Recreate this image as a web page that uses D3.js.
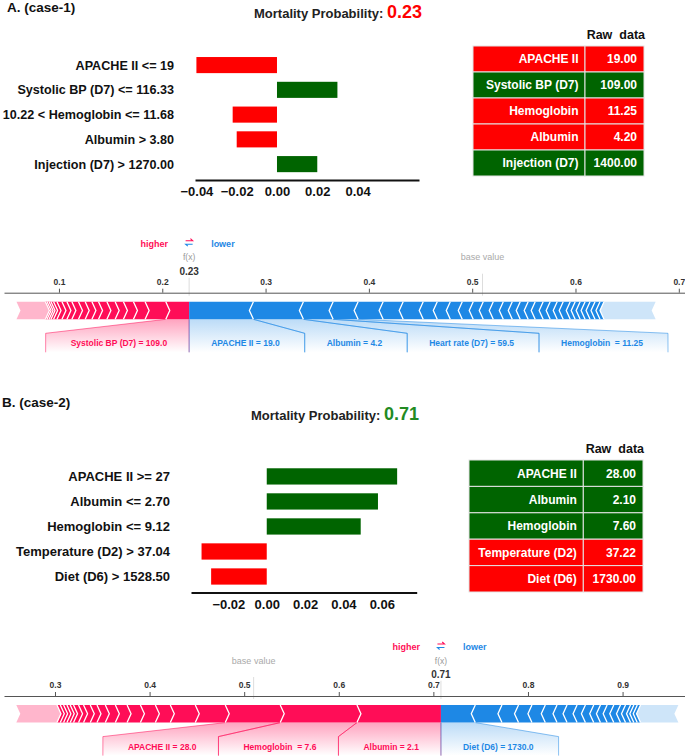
<!DOCTYPE html>
<html>
<head>
<meta charset="utf-8">
<script src="https://cdnjs.cloudflare.com/ajax/libs/d3/7.8.5/d3.min.js"></script>
<style>
  body { margin: 0; background: #fff; }
  svg { display: block; font-family: "Liberation Sans", Arial, sans-serif; }
  text { white-space: pre; }
</style>
</head>
<body>
<div id="chart"></div>
<script>
// ---- case 1 ----
var caseA_rules = ['APACHE II <= 19', 'Systolic BP (D7) <= 116.33', '10.22 < Hemoglobin <= 11.68', 'Albumin > 3.80', 'Injection (D7) > 1270.00'];
var caseA_weights = [-0.040, 0.030, -0.022, -0.020, 0.020];
var caseA_ticks = [-0.04, -0.02, 0.00, 0.02, 0.04];
var caseA_features = ['APACHE II', 'Systolic BP (D7)', 'Hemoglobin', 'Albumin', 'Injection (D7)'];
var caseA_raw = ['19.00', '109.00', '11.25', '4.20', '1400.00'];
var caseA_prob = '0.23';

var forceA_fx = 0.226;
var forceA_base = 0.510;
var forceA_ticks = [0.1, 0.2, 0.3, 0.4, 0.5, 0.6, 0.7];
// effects pushing higher (red), nearest f(x) first
var forceA_higher = [0.0226, 0.0200, 0.0113, 0.0097, 0.0080, 0.0080, 0.0081, 0.0064, 0.0065, 0.0065, 0.0064, 0.0048, 0.0048, 0.0048, 0.0033, 0.0025, 0.0019, 0.0019, 0.0016];
var forceA_higherRest = 0.028;
var forceA_higherLabels = ['Systolic BP (D7) = 109.0'];
// effects pushing lower (blue), nearest f(x) first
var forceA_lower = [0.0622, 0.0484, 0.0288, 0.0242, 0.0242, 0.0194, 0.0194, 0.0136, 0.0126, 0.0116, 0.0106, 0.0097, 0.0097, 0.0097, 0.0087, 0.0077, 0.0077, 0.0068, 0.0077, 0.0068, 0.0068, 0.0058, 0.0068, 0.0048, 0.0048, 0.0048, 0.0048, 0.0048, 0.0048, 0.0039];
var forceA_lowerRest = 0.050;
var forceA_lowerLabels = ['APACHE II = 19.0', 'Albumin = 4.2', 'Heart rate (D7) = 59.5', 'Hemoglobin  = 11.25'];

// ---- case 2 ----
var caseB_rules = ['APACHE II >= 27', 'Albumin <= 2.70', 'Hemoglobin <= 9.12', 'Temperature (D2) > 37.04', 'Diet (D6) > 1528.50'];
var caseB_weights = [0.068, 0.058, 0.049, -0.034, -0.029];
var caseB_ticks = [-0.02, 0.00, 0.02, 0.04, 0.06];
var caseB_features = ['APACHE II', 'Albumin', 'Hemoglobin', 'Temperature (D2)', 'Diet (D6)'];
var caseB_raw = ['28.00', '2.10', '7.60', '37.22', '1730.00'];
var caseB_prob = '0.71';

var forceB_fx = 0.708;
var forceB_base = 0.510;
var forceB_ticks = [0.3, 0.4, 0.5, 0.6, 0.7, 0.8, 0.9];
var forceB_higher = [0.0888, 0.0811, 0.0581, 0.0317, 0.0264, 0.0158, 0.0158, 0.0141, 0.0124, 0.0106, 0.0088, 0.0071, 0.0071, 0.0053, 0.0053, 0.0035, 0.0035, 0.0035, 0.0035, 0.0035];
var forceB_higherRest = 0.043;
var forceB_higherLabels = ['Albumin = 2.1', 'Hemoglobin  = 7.6', 'APACHE II = 28.0'];
var forceB_lower = [0.0363, 0.0282, 0.0175, 0.0142, 0.0141, 0.0124, 0.0106, 0.0106, 0.0088, 0.0088, 0.0071, 0.0071, 0.0070, 0.0071, 0.0053, 0.0053, 0.0035, 0.0036, 0.0035];
var forceB_lowerRest = 0.040;
var forceB_lowerLabels = ['Diet (D6) = 1730.0'];

var RED = '#ff0000', GREEN = '#006400';
var UP = '#ff0d57', DOWN = '#1e88e5';
var FONT = '"Liberation Sans", Arial, sans-serif';

var svg = d3.select('#chart').append('svg')
    .attr('width', 685)
    .attr('height', 756);

var defs = svg.append('defs');
function makeGrad(id, color, op) {
    var gr = defs.append('linearGradient').attr('id', id)
        .attr('x1', 0).attr('y1', 0).attr('x2', 0).attr('y2', 1);
    gr.append('stop').attr('offset', '0%').attr('stop-color', color).attr('stop-opacity', op);
    gr.append('stop').attr('offset', '100%').attr('stop-color', color).attr('stop-opacity', 0);
}
makeGrad('gradUp', UP, 0.38);
makeGrad('gradDown', DOWN, 0.3);

function drawHeader(label, x, y) {
    svg.append('text').text(label)
        .attr('x', x).attr('y', y)
        .attr('font-size', 13.5).attr('font-weight', 'bold').attr('fill', '#111');
}

function drawTitle(x, y, prob, color) {
    var t = svg.append('text').attr('x', x).attr('y', y).attr('font-weight', 'bold');
    t.append('tspan').text('Mortality Probability: ').attr('font-size', 13).attr('fill', '#222');
    t.append('tspan').text(prob).attr('font-size', 18).attr('fill', color);
}

// horizontal bar chart of rule weights
function drawLime(rules, weights, ticks, domain, range, bandRange, labelSize) {
    var x = d3.scaleLinear().domain(domain).range(range);
    var y = d3.scaleBand().domain(rules).range(bandRange)
        .paddingInner(0.35).paddingOuter(0.175);
    var g = svg.append('g');

    g.selectAll('rect')
        .data(weights)
        .enter()
        .append('rect')
        .attr('x', function(d) { return x(Math.min(0, d)); })
        .attr('width', function(d) { return Math.abs(x(d) - x(0)); })
        .attr('y', function(d, i) { return y(rules[i]); })
        .attr('height', y.bandwidth())
        .attr('fill', function(d) { return d < 0 ? RED : GREEN; });

    g.selectAll('text.rule')
        .data(rules)
        .enter()
        .append('text')
        .attr('class', 'rule')
        .text(function(d) { return d; })
        .attr('x', range[0] - 21)
        .attr('y', function(d) { return y(d) + y.bandwidth() / 2; })
        .attr('dy', '0.36em')
        .attr('text-anchor', 'end')
        .attr('font-size', labelSize)
        .attr('font-weight', 'bold')
        .attr('fill', '#111');

    var ax = g.append('g')
        .attr('transform', 'translate(0,' + (bandRange[1] + 3.5) + ')')
        .call(d3.axisBottom(x).tickValues(ticks).tickSize(0).tickSizeOuter(0)
            .tickPadding(7).tickFormat(d3.format('.2f')));
    ax.attr('font-family', FONT).attr('font-size', 13);
    ax.select('.domain').attr('stroke', '#111').attr('stroke-width', 2);
    ax.selectAll('text').attr('font-weight', 'bold').attr('fill', '#111');
}

// raw data table
function drawTable(names, raw, weights, x0, xDiv, x1, y0, rowH) {
    var g = svg.append('g');
    g.append('text').text('Raw  data')
        .attr('x', x1 + 1).attr('y', y0 - 7)
        .attr('text-anchor', 'end')
        .attr('font-size', 12.5).attr('font-weight', 'bold').attr('fill', '#111');

    var rows = g.selectAll('g.row')
        .data(names)
        .enter()
        .append('g')
        .attr('transform', function(d, i) { return 'translate(0,' + (y0 + i * rowH) + ')'; });

    rows.append('rect').attr('x', x0).attr('width', xDiv - x0).attr('height', rowH)
        .attr('fill', function(d, i) { return weights[i] < 0 ? RED : GREEN; })
        .attr('stroke', '#e4e4e4').attr('stroke-width', 1);
    rows.append('rect').attr('x', xDiv).attr('width', x1 - xDiv).attr('height', rowH)
        .attr('fill', function(d, i) { return weights[i] < 0 ? RED : GREEN; })
        .attr('stroke', '#e4e4e4').attr('stroke-width', 1);
    rows.append('text').text(function(d) { return d; })
        .attr('x', xDiv - 6.5).attr('y', rowH / 2).attr('dy', '0.36em')
        .attr('text-anchor', 'end').attr('font-size', 12).attr('font-weight', 'bold').attr('fill', '#fff');
    rows.append('text').text(function(d, i) { return raw[i]; })
        .attr('x', x1 - 7).attr('y', rowH / 2).attr('dy', '0.36em')
        .attr('text-anchor', 'end').attr('font-size', 12).attr('font-weight', 'bold').attr('fill', '#fff');
}

// additive force plot
function drawForce(o) {
    var x = d3.scaleLinear().domain(o.domain).range([4, 685]);
    var g = svg.append('g');
    var ay = o.axisY;
    var top = ay + 9, bot = ay + 26.6, mid = (top + bot) / 2, h = 4;
    var fxX = x(o.fx);

    [o.fx, o.base].forEach(function(v) {
        g.append('line')
            .attr('x1', x(v)).attr('x2', x(v))
            .attr('y1', ay - 19).attr('y2', ay + 3)
            .attr('stroke', '#ddd').attr('stroke-width', 1);
    });

    var ax = g.append('g')
        .attr('transform', 'translate(0,' + ay + ')')
        .call(d3.axisTop(x).tickValues(o.ticks).tickSize(4).tickSizeOuter(0)
            .tickPadding(4).tickFormat(d3.format('.1f')));
    ax.attr('font-family', FONT).attr('font-size', 8.5);
    ax.select('.domain').attr('stroke', '#555');
    ax.selectAll('.tick line').attr('stroke', '#555');
    ax.selectAll('text').attr('font-weight', 'bold').attr('fill', '#333');

    // legend + f(x)
    g.append('text').text('higher')
        .attr('x', fxX - 21).attr('y', ay - 46).attr('text-anchor', 'end')
        .attr('font-size', 9).attr('font-weight', 'bold').attr('fill', UP);
    g.append('text').text('lower')
        .attr('x', fxX + 22).attr('y', ay - 46)
        .attr('font-size', 9).attr('font-weight', 'bold').attr('fill', DOWN);
    var ar = ay - 52;
    g.append('path')
        .attr('d', 'M' + (fxX - 3.5) + ',' + ar + 'H' + (fxX + 3.5) + 'L' + (fxX + 1.3) + ',' + (ar - 2))
        .attr('fill', 'none').attr('stroke', UP).attr('stroke-width', 1.1);
    g.append('path')
        .attr('d', 'M' + (fxX + 3.5) + ',' + (ar + 3.5) + 'H' + (fxX - 3.5) + 'L' + (fxX - 1.3) + ',' + (ar + 5.5))
        .attr('fill', 'none').attr('stroke', DOWN).attr('stroke-width', 1.1);
    g.append('text').text('f(x)')
        .attr('x', fxX).attr('y', ay - 32.5).attr('text-anchor', 'middle')
        .attr('font-size', 8.5).attr('fill', '#999');
    g.append('text').text('base value')
        .attr('x', x(o.base)).attr('y', ay - 32.5).attr('text-anchor', 'middle')
        .attr('font-size', 9).attr('fill', '#aaa');
    g.append('text').text(o.fxLabel)
        .attr('x', fxX).attr('y', ay - 18).attr('text-anchor', 'middle')
        .attr('font-size', 10).attr('font-weight', 'bold').attr('fill', '#333')
        .attr('stroke', '#fff').attr('stroke-width', 5).attr('paint-order', 'stroke');

    function segments(vals, rest, dir) {
        var out = [], cum = 0;
        vals.concat([rest]).forEach(function(v, i) {
            var a = o.fx + dir * cum, b = o.fx + dir * (cum + v);
            out.push({ x0: x(Math.min(a, b)), x1: x(Math.max(a, b)), first: i === 0, tail: i === vals.length });
            cum += v;
        });
        return out;
    }
    var up = segments(o.higher, o.higherRest, -1);
    var down = segments(o.lower, o.lowerRest, 1);

    var backs = g.append('g'), bars = g.append('g'), texts = g.append('g');

    bars.selectAll('polygon.up').data(up).enter().append('polygon')
        .attr('points', function(s) {
            return [[s.x0, top], [s.x1, top], [s.first ? s.x1 : s.x1 + h, mid], [s.x1, bot], [s.x0, bot], [s.x0 + h, mid]].join(' ');
        })
        .attr('fill', UP).attr('fill-opacity', function(s) { return s.tail ? 0.3 : 1; });
    bars.selectAll('polygon.down').data(down).enter().append('polygon')
        .attr('points', function(s) {
            return [[s.x0, top], [s.x1, top], [s.x1 - h, mid], [s.x1, bot], [s.x0, bot], [s.first ? s.x0 : s.x0 - h, mid]].join(' ');
        })
        .attr('fill', DOWN).attr('fill-opacity', function(s) { return s.tail ? 0.22 : 1; });

    bars.selectAll('path.cu').data(up.filter(function(s) { return !s.tail; })).enter().append('path')
        .attr('d', function(s) { return 'M' + s.x0 + ',' + top + 'L' + (s.x0 + h) + ',' + mid + 'L' + s.x0 + ',' + bot; })
        .attr('fill', 'none').attr('stroke', '#fff').attr('stroke-width', 1.3);
    bars.selectAll('path.cd').data(down.filter(function(s) { return !s.tail; })).enter().append('path')
        .attr('d', function(s) { return 'M' + s.x1 + ',' + top + 'L' + (s.x1 - h) + ',' + mid + 'L' + s.x1 + ',' + bot; })
        .attr('fill', 'none').attr('stroke', '#fff').attr('stroke-width', 1.3);

    function labels(list, segs, dir, color, grad) {
        var prev = fxX;
        list.forEach(function(txt, i) {
            var s = segs[i];
            var t = texts.append('text').text(txt)
                .attr('y', bot + 27).attr('text-anchor', 'middle')
                .attr('font-size', 8.5).attr('font-weight', 'bold').attr('fill', color);
            var w = t.node().getComputedTextLength();
            var c = (s.x0 + s.x1) / 2, tl, bl, br;
            if (dir > 0) {
                tl = Math.max(c - w / 2, prev + 22);
                bl = tl - 22; br = tl + w + 25; prev = br;
            } else {
                var tr = Math.min(c + w / 2, prev - 22);
                tl = tr - w; br = tr + 22; bl = tl - 25; prev = bl;
            }
            t.attr('x', tl + w / 2);
            backs.append('polygon')
                .attr('points', [[s.x0, bot], [s.x1, bot], [br, bot + 14], [br, bot + 33], [bl, bot + 33], [bl, bot + 14]].join(' '))
                .attr('fill', 'url(#' + grad + ')');
            [[[s.x0, bot], [bl, bot + 14], [bl, bot + 33]], [[s.x1, bot], [br, bot + 14], [br, bot + 33]]].forEach(function(pts) {
                backs.append('path').attr('d', d3.line()(pts))
                    .attr('fill', 'none').attr('stroke', color).attr('stroke-opacity', 0.5).attr('stroke-width', 1);
            });
        });
    }
    labels(o.higherLabels, up, -1, UP, 'gradUp');
    labels(o.lowerLabels, down, 1, DOWN, 'gradDown');
}

// ---- panel A ----
drawHeader('A. (case-1)', 7, 11.5);
drawTitle(254, 17.5, caseA_prob, RED);
drawLime(caseA_rules, caseA_weights, caseA_ticks, [-0.0407, 0.0705], [195, 419], [52.7, 176.5], 12.6);
drawTable(caseA_features, caseA_raw, caseA_weights, 473, 585, 644, 46, 26);
drawForce({
    domain: [0.0468, 0.706], axisY: 292.7,
    fx: forceA_fx, fxLabel: '0.23', base: forceA_base, ticks: forceA_ticks,
    higher: forceA_higher, higherRest: forceA_higherRest, higherLabels: forceA_higherLabels,
    lower: forceA_lower, lowerRest: forceA_lowerRest, lowerLabels: forceA_lowerLabels
});

// ---- panel B ----
drawHeader('B. (case-2)', 2, 407);
drawTitle(251, 419.5, caseB_prob, '#228b22');
drawLime(caseB_rules, caseB_weights, caseB_ticks, [-0.0395, 0.0782], [191, 416.7], [463.9, 589], 13);
drawTable(caseB_features, caseB_raw, caseB_weights, 469, 583.3, 643, 460, 26.4);
drawForce({
    domain: [0.2461, 0.966], axisY: 696,
    fx: forceB_fx, fxLabel: '0.71', base: forceB_base, ticks: forceB_ticks,
    higher: forceB_higher, higherRest: forceB_higherRest, higherLabels: forceB_higherLabels,
    lower: forceB_lower, lowerRest: forceB_lowerRest, lowerLabels: forceB_lowerLabels
});
</script>
</body>
</html>
